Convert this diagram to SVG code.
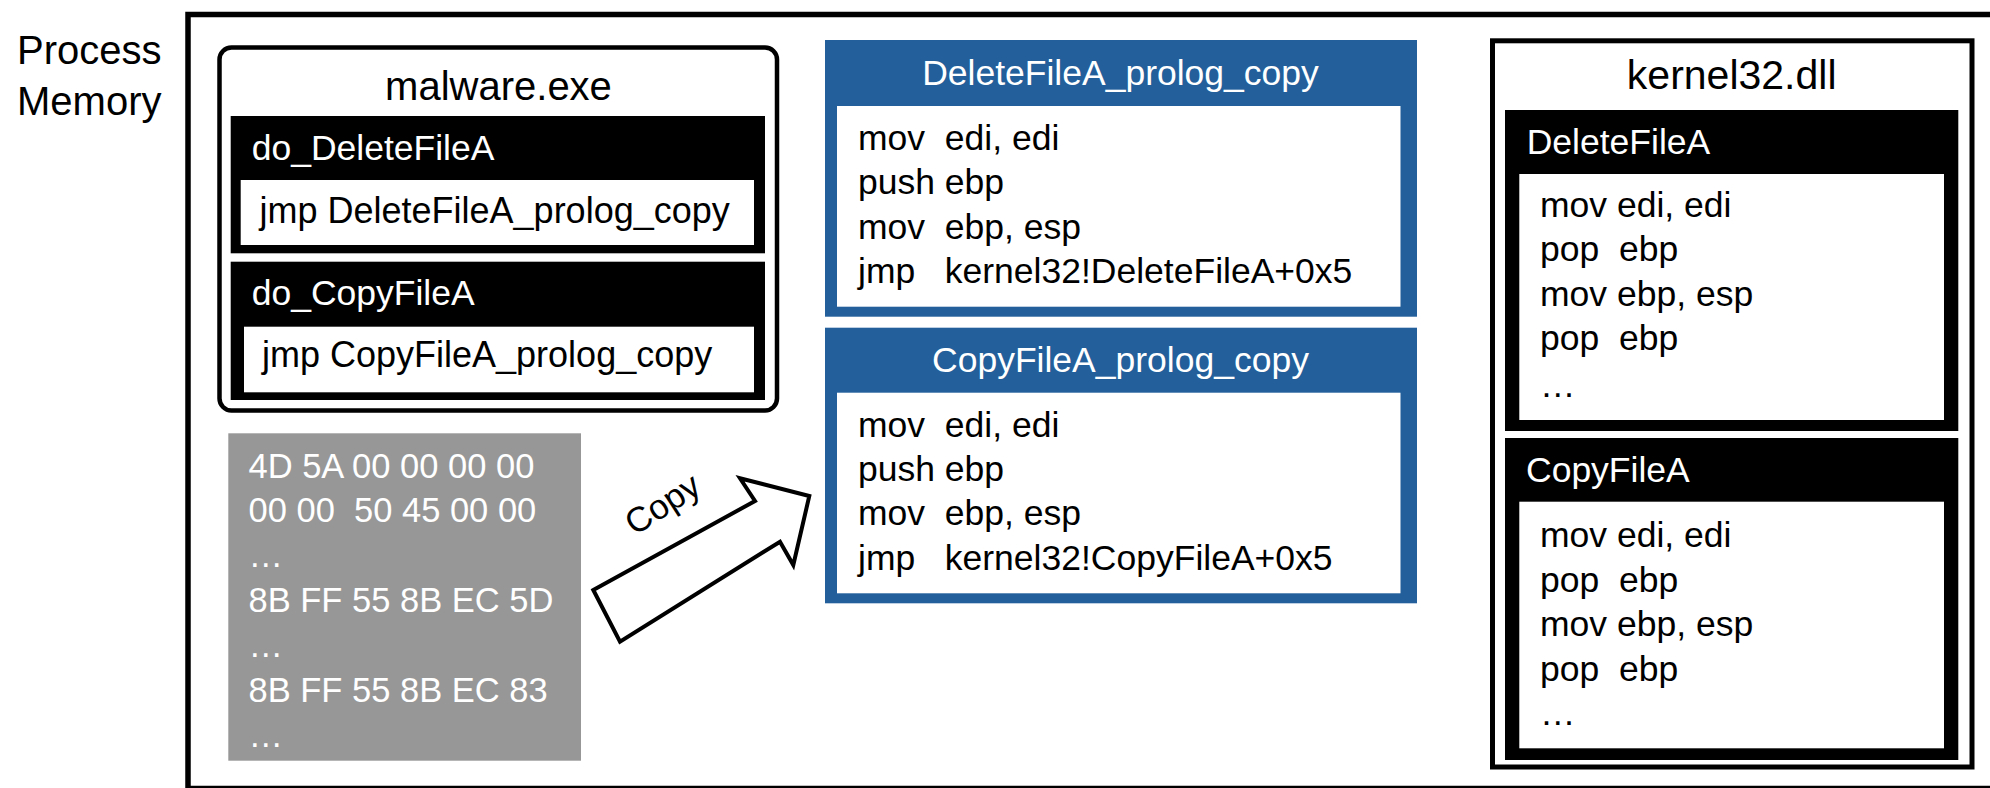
<svg xmlns="http://www.w3.org/2000/svg" width="1990" height="788" viewBox="0 0 1990 788">
<style>
text { font-family: "Liberation Sans", Arial, sans-serif; white-space: pre; }
.t35 { font-size: 35.5px; fill: #000; }
.t36 { font-size: 36px; fill: #000; }
.wt { fill: #fff; }
.big { font-size: 40px; fill: #000; }
.hex { font-size: 34.5px; fill: #fff; }
.blk { fill: #000; }
.wht { fill: #fff; }
.blue { fill: #225F9B; }
</style>
<rect width="1990" height="788" fill="#fff"/>
<g id="process-memory-frame">
<rect x="188" y="14.5" width="1806" height="774" fill="none" stroke="#000" stroke-width="5.5"/>
<text class="big" x="17" y="63.5">Process</text>
<text class="big" x="17" y="115">Memory</text>
</g>
<g id="malware-exe">
<rect x="219.5" y="47.5" width="557.5" height="363" rx="12" fill="#fff" stroke="#000" stroke-width="4.5"/>
<text class="big" x="498.5" y="100" text-anchor="middle">malware.exe</text>
<g id="do-DeleteFileA">
<rect class="blk" x="230.7" y="116" width="534.3" height="137.3"/>
<text class="t35 wt" x="251.7" y="160">do_DeleteFileA</text>
<rect class="wht" x="240.7" y="180" width="513.3" height="65"/>
<text class="t36" x="259.5" y="223">jmp DeleteFileA_prolog_copy</text>
</g>
<g id="do-CopyFileA">
<rect class="blk" x="230.7" y="261.7" width="534.3" height="138.3"/>
<text class="t35 wt" x="251.7" y="305">do_CopyFileA</text>
<rect class="wht" x="244" y="326.7" width="510" height="65.6"/>
<text class="t36" x="262" y="367">jmp CopyFileA_prolog_copy</text>
</g>
</g>
<g id="raw-bytes">
<rect x="228.3" y="433.3" width="352.7" height="327.4" fill="#979797"/>
<text class="hex" x="248.5" y="478.3">4D 5A 00 00 00 00</text>
<text class="hex" x="248.5" y="522">00 00  50 45 00 00</text>
<text class="hex" x="248.5" y="566.7">…</text>
<text class="hex" x="248.5" y="611.7">8B FF 55 8B EC 5D</text>
<text class="hex" x="248.5" y="656.7">…</text>
<text class="hex" x="248.5" y="701.7">8B FF 55 8B EC 83</text>
<text class="hex" x="248.5" y="746.7">…</text>
</g>
<g id="DeleteFileA-prolog-copy">
<rect class="blue" x="825" y="40" width="592" height="276.7"/>
<rect class="wht" x="837" y="106" width="563.5" height="200.7"/>
<text class="t35 wt" x="1120.5" y="85" text-anchor="middle">DeleteFileA_prolog_copy</text>
<text class="t35" x="858" y="150">mov  edi, edi</text>
<text class="t35" x="858" y="194">push ebp</text>
<text class="t35" x="858" y="238.5">mov  ebp, esp</text>
<text class="t35" x="858" y="283">jmp   kernel32!DeleteFileA+0x5</text>
</g>
<g id="CopyFileA-prolog-copy">
<rect class="blue" x="825" y="327.7" width="592" height="275.6"/>
<rect class="wht" x="837" y="392.7" width="563.5" height="200.6"/>
<text class="t35 wt" x="1120.5" y="371.7" text-anchor="middle">CopyFileA_prolog_copy</text>
<text class="t35" x="858" y="436.7">mov  edi, edi</text>
<text class="t35" x="858" y="481">push ebp</text>
<text class="t35" x="858" y="525.3">mov  ebp, esp</text>
<text class="t35" x="858" y="570">jmp   kernel32!CopyFileA+0x5</text>
</g>
<g id="kernel32-dll">
<rect x="1492.5" y="40.8" width="479.5" height="726.2" fill="#fff" stroke="#000" stroke-width="5"/>
<text class="big" x="1731.7" y="89.3" text-anchor="middle" style="font-size:41px">kernel32.dll</text>
<g id="DeleteFileA">
<rect class="blk" x="1505" y="110" width="453.3" height="321"/>
<text class="t35 wt" x="1526.7" y="154">DeleteFileA</text>
<rect class="wht" x="1519.3" y="174" width="424.7" height="246"/>
<text class="t35" x="1540" y="216.7">mov edi, edi</text>
<text class="t35" x="1540" y="261">pop  ebp</text>
<text class="t35" x="1540" y="305.5">mov ebp, esp</text>
<text class="t35" x="1540" y="350">pop  ebp</text>
<text class="t35" x="1540" y="397">…</text>
</g>
<g id="CopyFileA">
<rect class="blk" x="1505" y="438" width="453.3" height="322"/>
<text class="t35 wt" x="1526" y="482">CopyFileA</text>
<rect class="wht" x="1519.3" y="501.7" width="424.7" height="246.6"/>
<text class="t35" x="1540" y="547">mov edi, edi</text>
<text class="t35" x="1540" y="591.5">pop  ebp</text>
<text class="t35" x="1540" y="636">mov ebp, esp</text>
<text class="t35" x="1540" y="680.5">pop  ebp</text>
<text class="t35" x="1540" y="725">…</text>
</g>
</g>
<g id="connectors">
<polygon points="593.3,590 755,501 740,478.3 809.3,496 793.3,565 780,541.7 620,641.7" fill="#fff" stroke="#000" stroke-width="4" stroke-linejoin="miter"/>
<text x="669" y="514" text-anchor="middle" transform="rotate(-33 669 514)" style="font-size:35px;fill:#000">Copy</text>
</g>
</svg>
